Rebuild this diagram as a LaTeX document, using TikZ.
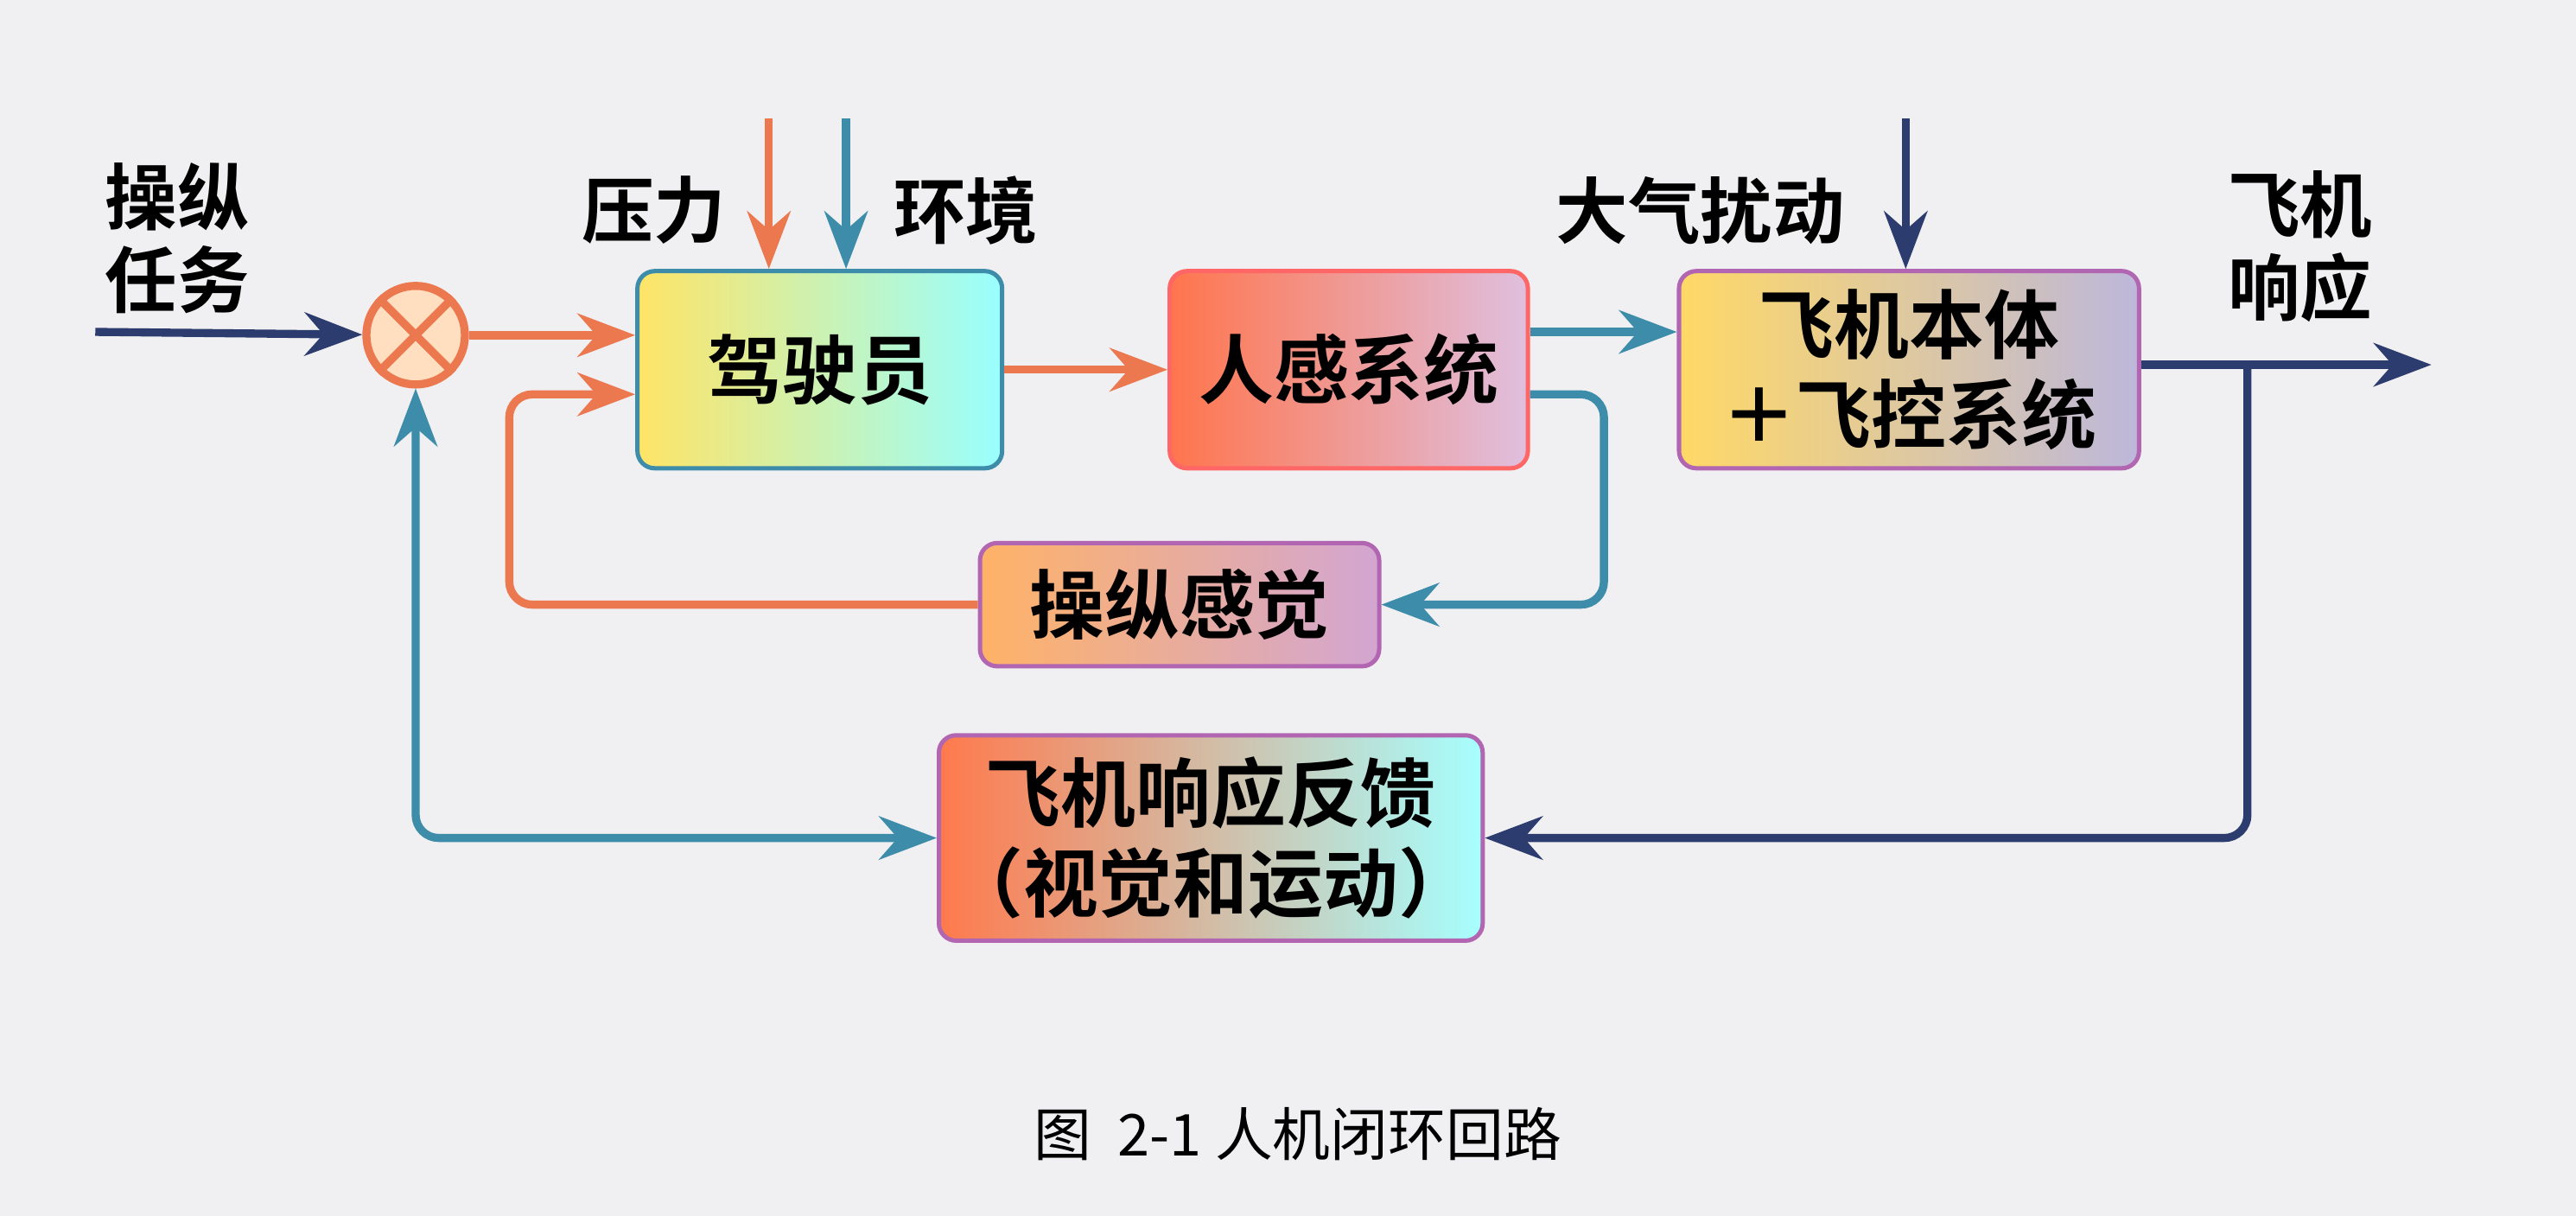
\documentclass[tikz,border=0pt]{standalone}
\usepackage{fontspec}
\setmainfont{Noto Sans CJK SC}[BoldFont={Noto Sans CJK SC Bold}]
\usetikzlibrary{arrows.meta}
\definecolor{ornge}{RGB}{236,120,80}
\definecolor{teal2}{RGB}{60,140,170}
\definecolor{navy2}{RGB}{45,60,110}
\definecolor{bgc}{RGB}{240,240,242}
\tikzset{
  blk/.style={draw=#1, line width=1.5pt, rounded corners=6pt, align=center,
    font=\fontsize{26}{31}\selectfont\bfseries, inner sep=0pt},
  lbl/.style={font=\fontsize{25}{29}\selectfont\bfseries, align=center},
  ln/.style={line width=2.8pt, draw=#1, -{Stealth[length=20pt,width=15pt]}},
}
\begin{document}
\begin{tikzpicture}[x=0.02cm, y=-0.02cm]
\fill[bgc] (0,0) rectangle (1568,740);
\useasboundingbox (0,0) rectangle (1568,740);
% boxes
\node[blk=teal2, minimum width=222*0.02cm, minimum height=120*0.02cm,
  left color=orange!35!yellow!60, right color=cyan!40] (pilot) at (499,225) {驾驶员};
\node[blk=red!60, minimum width=218*0.02cm, minimum height=120*0.02cm,
  left color=red!55!orange!70, right color=violet!25] (feel) at (821,225) {人感系统};
\node[blk=violet!60, minimum width=280*0.02cm, minimum height=120*0.02cm,
  left color=orange!50!yellow!60, right color=cyan!30!violet!40] (plane) at (1162,225) {飞机本体\\＋飞控系统};
\node[blk=violet!60, minimum width=243*0.02cm, minimum height=75*0.02cm,
  left color=orange!60, right color=violet!35] (sense) at (718,368) {操纵感觉};
\node[blk=violet!60, minimum width=331*0.02cm, minimum height=125*0.02cm,
  left color=red!50!orange!70, right color=cyan!35] (fb) at (737,510) {飞机响应反馈\\（视觉和运动）};
% sum
\node[circle, draw=ornge, line width=2.8pt, fill=orange!25, minimum size=60*0.02cm] (sum) at (253,204) {};
\draw[ornge, line width=2.8pt] (sum.north west) -- (sum.south east) (sum.north east) -- (sum.south west);
% labels
\node[lbl] (task) at (108,145) {操纵\\任务};
\node[lbl] (press) at (398,128) {压力};
\node[lbl] (env) at (588,128) {环境};
\node[lbl] (dist) at (1035,128) {大气扰动};
\node[lbl] (resp) at (1400,150) {飞机\\响应};
\coordinate (in) at (58,202);
\coordinate (out) at (1480,222);
\coordinate (tp) at (468,72);
\coordinate (te) at (515,72);
\coordinate (td) at (1160,72);
\coordinate (br) at (1368,222);
% connectors
\draw[ln=navy2] (in) -- (sum);
\draw[ln=ornge] (sum.east) -- (pilot.west |- sum.east);
\draw[ln=ornge] (tp) -- (pilot.north -| tp);
\draw[ln=teal2] (te) -- (pilot.north -| te);
\draw[ln=navy2] (td) -- (plane.north -| td);
\draw[ln=ornge] (pilot) -- (feel);
\draw[ln=teal2] ([yshift=0.46cm]feel.east) -- ([yshift=0.46cm]plane.west);
\draw[ln=teal2, rounded corners=8pt] ([yshift=-0.3cm]feel.east) -- ++(45,0) |- (sense.east);
\draw[ln=ornge, rounded corners=8pt] (sense.west) -| (310,240) -- ([yshift=-0.3cm]pilot.west);
\draw[ln=navy2] (plane.east |- out) -- (out);
\draw[ln=navy2, rounded corners=8pt] (br) |- (fb.east);
\draw[line width=2.8pt, draw=teal2, {Stealth[length=20pt,width=15pt]}-{Stealth[length=20pt,width=15pt]}, rounded corners=8pt] (fb.west) -| (sum.south);
% caption
\node[font=\fontsize{20}{24}\selectfont] (cap) at (790,690) {图\ \ 2-1 人机闭环回路};
\end{tikzpicture}
\end{document}
